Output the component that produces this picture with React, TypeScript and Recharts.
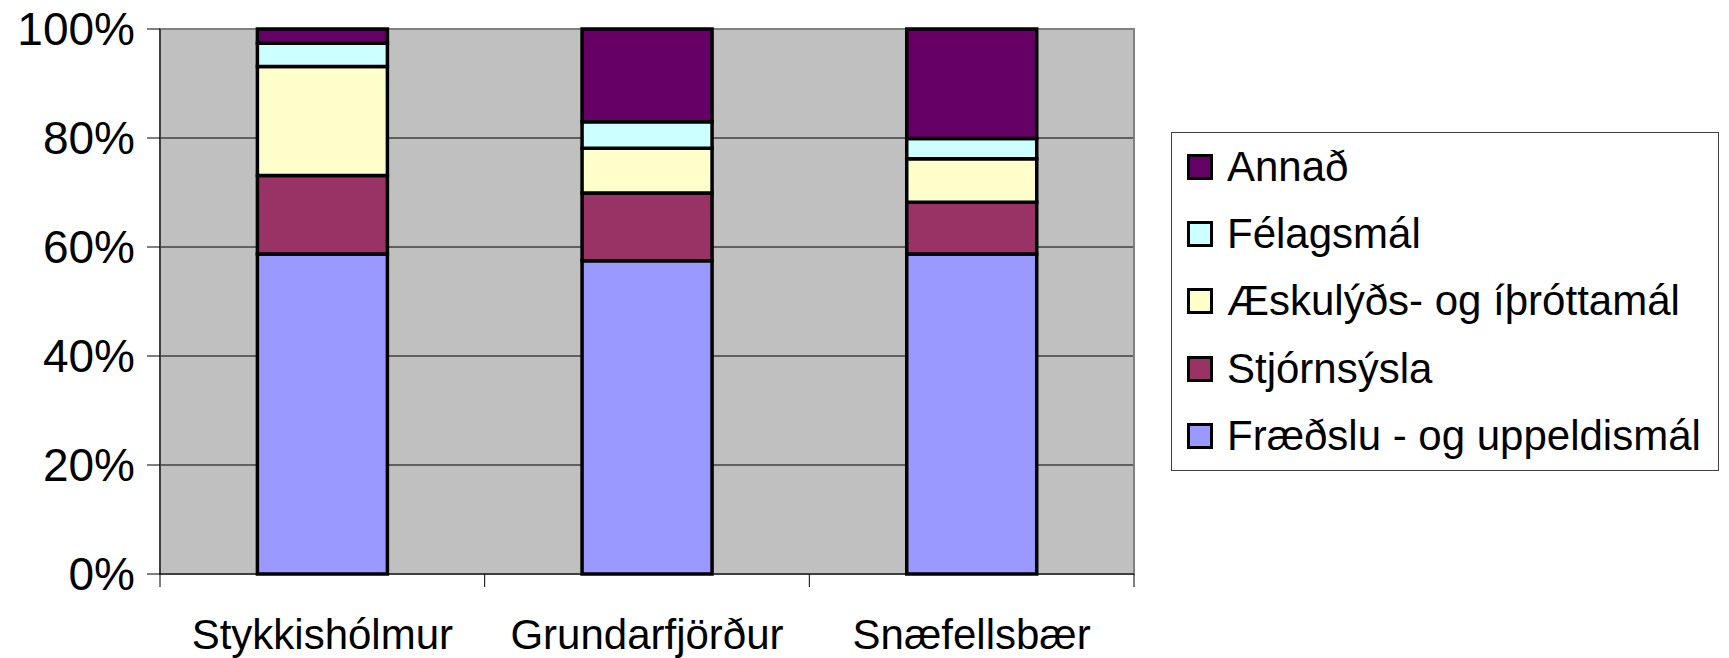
import React from 'react';
import { BarChart, Bar, XAxis, YAxis, CartesianGrid, Legend, ReferenceArea } from 'recharts';

const FONT = '"Liberation Sans", Arial, sans-serif';

// shares per town (percent)
const towns = ['Stykkishólmur', 'Grundarfjörður', 'Snæfellsbær'];
const fraedsla = [58.7, 57.5, 58.7];
const stjornsysla = [14.4, 12.4, 9.5];
const aeskulyds = [20.0, 8.2, 8.0];
const felagsmal = [4.3, 4.9, 3.7];
const annad = [2.6, 17.0, 20.1];

const yTicks = [0, 20, 40, 60, 80, 100];

// bottom of the stack first
const series = [
  { key: 'fraedsla', name: 'Fræðslu - og uppeldismál', color: '#9999FF', values: fraedsla },
  { key: 'stjornsysla', name: 'Stjórnsýsla', color: '#993366', values: stjornsysla },
  { key: 'aeskulyds', name: 'Æskulýðs- og íþróttamál', color: '#FFFFCC', values: aeskulyds },
  { key: 'felagsmal', name: 'Félagsmál', color: '#CCFFFF', values: felagsmal },
  { key: 'annad', name: 'Annað', color: '#660066', values: annad },
];

const data = towns.map((town, i) => {
  const row: any = { town };
  series.forEach((s) => {
    row[s.key] = s.values[i];
  });
  return row;
});

const W = 1729;
const H = 658;
const MARGIN = { top: 29, right: 595, bottom: 0, left: 0 };
const Y_AXIS_W = 160;
const LABEL_GAP = 45;
const BAND = (W - MARGIN.right - MARGIN.left - Y_AXIS_W) / towns.length;

// town label plus the little tick marks that sit between the towns
const TownTick = (props: any) => {
  const { x, y, payload, index } = props;
  const axisY = y - LABEL_GAP;
  const left = x - BAND / 2;
  return (
    <g>
      <line x1={left} x2={left} y1={axisY} y2={axisY + 13} stroke="#000" />
      {index === towns.length - 1 && (
        <line x1={x + BAND / 2} x2={x + BAND / 2} y1={axisY} y2={axisY + 13} stroke="#000" />
      )}
      <text x={x} y={y} dy="0.71em" textAnchor="middle" fill="#000" fontSize={42} fontFamily={FONT}>
        {payload.value}
      </text>
    </g>
  );
};

const renderLegend = () => (
  <div
    style={{
      width: 548,
      height: 339,
      boxSizing: 'border-box',
      border: '1px solid #404040',
      background: '#fff',
      fontFamily: FONT,
      fontSize: 42,
      color: '#000',
    }}
  >
    {[...series].reverse().map((s) => (
      <div key={s.key} style={{ height: 67.4, display: 'flex', alignItems: 'center', paddingLeft: 15 }}>
        <span
          style={{
            display: 'inline-block',
            width: 26,
            height: 26,
            boxSizing: 'border-box',
            border: '3px solid #000',
            background: s.color,
            marginRight: 14,
            flexShrink: 0,
          }}
        />
        <span style={{ lineHeight: 1, whiteSpace: 'nowrap' }}>{s.name}</span>
      </div>
    ))}
  </div>
);

export default function App() {
  return (
    <div style={{ position: 'absolute', left: 0, top: 0, width: W, height: H, background: '#fff' }}>
      <BarChart width={W} height={H} data={data} margin={MARGIN} barCategoryGap="30%">
        <CartesianGrid vertical={false} stroke="#000" fill="#C0C0C0" fillOpacity={1} />
        <XAxis
          dataKey="town"
          height={84}
          interval={0}
          tickLine={false}
          tickSize={0}
          tickMargin={LABEL_GAP}
          axisLine={{ stroke: '#000' }}
          tick={<TownTick />}
        />
        <YAxis
          width={Y_AXIS_W}
          domain={[0, 100]}
          ticks={yTicks}
          tickFormatter={(v) => `${v}%`}
          tickSize={13}
          tickMargin={12}
          tickLine={{ stroke: '#000' }}
          axisLine={{ stroke: '#000' }}
          tick={{ fill: '#000', fontSize: 46, fontFamily: FONT }}
        />
        <ReferenceArea y1={0} y2={100} fill="none" stroke="#808080" strokeWidth={2} />
        {series.map((s) => (
          <Bar
            key={s.key}
            dataKey={s.key}
            name={s.name}
            stackId="a"
            fill={s.color}
            stroke="#000"
            strokeWidth={3.5}
            isAnimationActive={false}
          />
        ))}
        <Legend
          layout="vertical"
          align="center"
          verticalAlign="middle"
          content={renderLegend}
          wrapperStyle={{ position: 'absolute', left: 1171, top: 132, width: 548, height: 339 }}
        />
      </BarChart>
    </div>
  );
}
